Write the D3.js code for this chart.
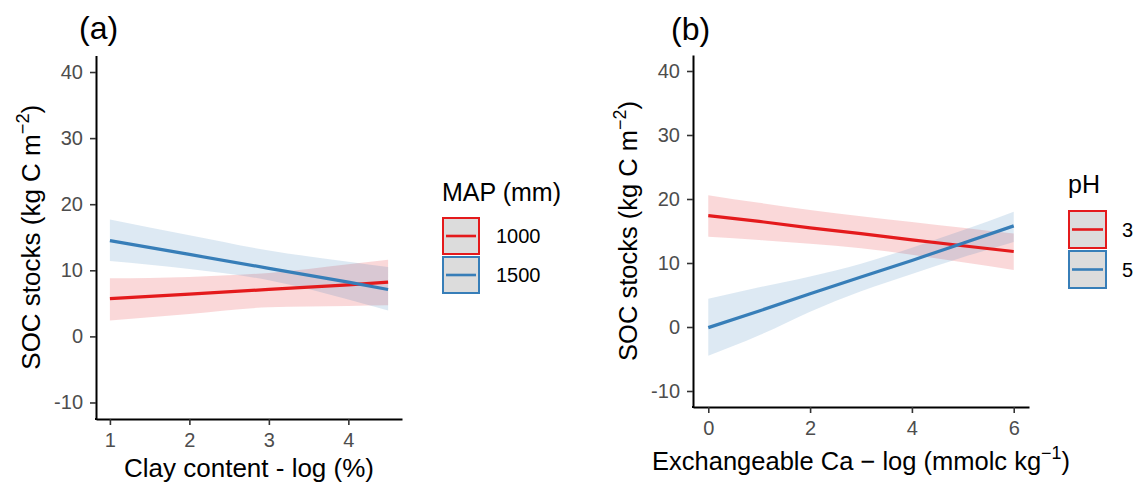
<!DOCTYPE html>
<html>
<head>
<meta charset="utf-8">
<script src="https://cdn.jsdelivr.net/npm/d3@7/dist/d3.min.js"></script>
<style>
  html, body { margin: 0; padding: 0; background: #ffffff; }
  svg { display: block; font-family: "Liberation Sans", Arial, Helvetica, sans-serif; }
</style>
</head>
<body>
<svg id="chart" width="1137" height="483"></svg>
<script>
// Panel (a): SOC stocks vs clay content, by mean annual precipitation
const clayX = [1, 2, 3, 4, 4.5];
const map1000Fit = [5.7, 6.4, 7.1, 7.8, 8.2];
const map1000Lo  = [2.4, 3.4, 4.4, 4.6, 4.7];
const map1000Hi  = [8.8, 9.0, 9.6, 10.9, 11.6];
const map1500Fit = [14.5, 12.4, 10.3, 8.2, 7.1];
const map1500Lo  = [11.4, 10.2, 8.5, 5.6, 3.9];
const map1500Hi  = [17.7, 15.3, 13.0, 11.3, 10.5];
const clayTicks = [1, 2, 3, 4];

// Panel (b): SOC stocks vs exchangeable Ca, by soil pH
const caX = [0, 1, 2, 3, 4, 5, 6];
const ph3Fit = [17.4, 16.5, 15.5, 14.6, 13.6, 12.7, 11.8];
const ph3Lo  = [14.1, 13.6, 13.0, 12.3, 11.3, 10.1, 8.9];
const ph3Hi  = [20.6, 19.4, 18.3, 17.3, 16.4, 15.5, 14.6];
const ph5Fit = [-0.1, 2.5, 5.2, 7.8, 10.4, 13.1, 15.8];
const ph5Lo  = [-4.5, -1.3, 2.4, 5.6, 8.3, 10.9, 13.3];
const ph5Hi  = [4.4, 6.2, 7.9, 9.9, 12.4, 15.1, 18.0];
const caTicks = [0, 2, 4, 6];

const socTicks = [-10, 0, 10, 20, 30, 40];
const socDomain = [-12.5, 42.5];

const RED = "#E41A1C";
const BLUE = "#377EB8";

const svg = d3.select("#chart");

function drawPanel(cfg) {
  const g = svg.append("g");
  const x = d3.scaleLinear().domain(cfg.xDomain).range([cfg.left, cfg.right]);
  const y = d3.scaleLinear().domain(socDomain).range([cfg.bottom, cfg.top]);

  // confidence ribbons
  cfg.series.forEach(s => {
    const area = d3.area()
      .x((d, i) => x(cfg.xs[i]))
      .y0((d, i) => y(s.lo[i]))
      .y1((d, i) => y(s.hi[i]))
      .curve(d3.curveMonotoneX);
    g.append("path")
      .attr("d", area(s.fit))
      .attr("fill", s.color)
      .attr("fill-opacity", 0.17)
      .attr("stroke", "none");
  });

  // fitted lines
  cfg.series.forEach(s => {
    const line = d3.line()
      .x((d, i) => x(cfg.xs[i]))
      .y(d => y(d));
    g.append("path")
      .attr("d", line(s.fit))
      .attr("fill", "none")
      .attr("stroke", s.color)
      .attr("stroke-width", 3.2);
  });

  // axes
  const yAxis = d3.axisLeft(y).tickValues(socTicks).tickSizeInner(6).tickSizeOuter(0).tickPadding(7)
    .tickFormat(d => d < 0 ? "-" + Math.abs(d) : String(d));
  const xAxis = d3.axisBottom(x).tickValues(cfg.xTicks).tickSizeInner(6).tickSizeOuter(0).tickPadding(8)
    .tickFormat(d3.format("d"));

  const ya = g.append("g").attr("transform", `translate(${cfg.left},0)`).call(yAxis);
  const xa = g.append("g").attr("transform", `translate(0,${cfg.bottom})`).call(xAxis);
  [ya, xa].forEach(a => {
    a.attr("font-size", cfg.tickFont).attr("font-family", null);
    a.select(".domain").attr("stroke", "#000").attr("stroke-width", 2);
    a.selectAll(".tick line").attr("stroke", "#333").attr("stroke-width", 1.6);
    a.selectAll(".tick text")
      .attr("fill", "#4d4d4d")
      .style("font-size", cfg.tickFont + "px")
      .style("font-family", "'Liberation Sans', Arial, sans-serif");
  });
  // close the corner where the two axis lines meet
  g.append("line")
    .attr("x1", cfg.left - 1).attr("x2", cfg.left + 1)
    .attr("y1", cfg.bottom).attr("y2", cfg.bottom)
    .attr("stroke", "#000").attr("stroke-width", 2);

  // panel tag
  g.append("text")
    .attr("x", cfg.tagX).attr("y", cfg.tagY)
    .attr("font-size", cfg.tagFont)
    .attr("fill", "#000")
    .text(cfg.tag);

  // y-axis title
  const yt = g.append("text")
    .attr("transform", `translate(${cfg.yTitleX},${(cfg.top + cfg.bottom) / 2}) rotate(-90)`)
    .attr("text-anchor", "middle")
    .attr("font-size", cfg.titleFont)
    .attr("fill", "#000");
  yt.append("tspan").text("SOC stocks (kg C m");
  yt.append("tspan").attr("dy", -cfg.titleFont * 0.42).attr("font-size", cfg.titleFont * 0.7).text("\u22122");
  yt.append("tspan").attr("dy", cfg.titleFont * 0.42).text(")");

  // x-axis title
  const xt = g.append("text")
    .attr("x", (cfg.left + cfg.right) / 2)
    .attr("y", cfg.xTitleY)
    .attr("text-anchor", "middle")
    .attr("font-size", cfg.titleFont)
    .attr("fill", "#000");
  cfg.xTitle.forEach(part => {
    const t = xt.append("tspan").text(part.text);
    if (part.sup) {
      t.attr("dy", -cfg.titleFont * 0.42).attr("font-size", cfg.titleFont * 0.7);
    } else if (part.after) {
      t.attr("dy", cfg.titleFont * 0.42);
    }
  });

  // legend
  const lg = g.append("g");
  lg.append("text")
    .attr("x", cfg.legendX).attr("y", cfg.legendTitleY)
    .attr("font-size", cfg.legendTitleFont)
    .attr("fill", "#000")
    .text(cfg.legendTitle);
  cfg.series.forEach((s, i) => {
    const ky = cfg.legendKeyY + i * cfg.legendKeyStep;
    lg.append("rect")
      .attr("x", cfg.legendX + 1).attr("y", ky + 1)
      .attr("width", cfg.keyW - 2).attr("height", cfg.keyH - 2)
      .attr("fill", "#dcdcdc")
      .attr("stroke", s.color)
      .attr("stroke-width", 2);
    lg.append("line")
      .attr("x1", cfg.legendX + 4).attr("x2", cfg.legendX + cfg.keyW - 4)
      .attr("y1", ky + cfg.keyH / 2).attr("y2", ky + cfg.keyH / 2)
      .attr("stroke", s.color)
      .attr("stroke-width", 2.6);
    lg.append("text")
      .attr("x", cfg.legendX + cfg.keyW + cfg.labelGap)
      .attr("y", ky + cfg.keyH / 2)
      .attr("dy", "0.35em")
      .attr("font-size", cfg.legendFont)
      .attr("fill", "#000")
      .text(s.name);
  });
}

drawPanel({
  tag: "(a)", tagX: 79, tagY: 39, tagFont: 32,
  left: 96, right: 402, top: 55.5, bottom: 419,
  xDomain: [0.825, 4.675], xs: clayX, xTicks: clayTicks,
  tickFont: 20, titleFont: 26,
  yTitleX: 40,
  xTitleY: 477,
  xTitle: [{ text: "Clay content - log (%)" }],
  series: [
    { name: "1000", color: RED, fit: map1000Fit, lo: map1000Lo, hi: map1000Hi },
    { name: "1500", color: BLUE, fit: map1500Fit, lo: map1500Lo, hi: map1500Hi }
  ],
  legendTitle: "MAP (mm)", legendX: 442, legendTitleY: 201, legendTitleFont: 25,
  legendKeyY: 217, legendKeyStep: 39, keyW: 38, keyH: 38, labelGap: 16, legendFont: 20
});

drawPanel({
  tag: "(b)", tagX: 671, tagY: 40, tagFont: 32,
  left: 693, right: 1029, top: 55, bottom: 407,
  xDomain: [-0.3, 6.3], xs: caX, xTicks: caTicks,
  tickFont: 20, titleFont: 25.5,
  yTitleX: 637,
  xTitleY: 470,
  xTitle: [
    { text: "Exchangeable Ca \u2212 log (mmolc kg" },
    { text: "\u22121", sup: true },
    { text: ")", after: true }
  ],
  series: [
    { name: "3", color: RED, fit: ph3Fit, lo: ph3Lo, hi: ph3Hi },
    { name: "5", color: BLUE, fit: ph5Fit, lo: ph5Lo, hi: ph5Hi }
  ],
  legendTitle: "pH", legendX: 1068, legendTitleY: 193, legendTitleFont: 25,
  legendKeyY: 210, legendKeyStep: 40, keyW: 39, keyH: 39, labelGap: 15, legendFont: 20
});
</script>
</body>
</html>
